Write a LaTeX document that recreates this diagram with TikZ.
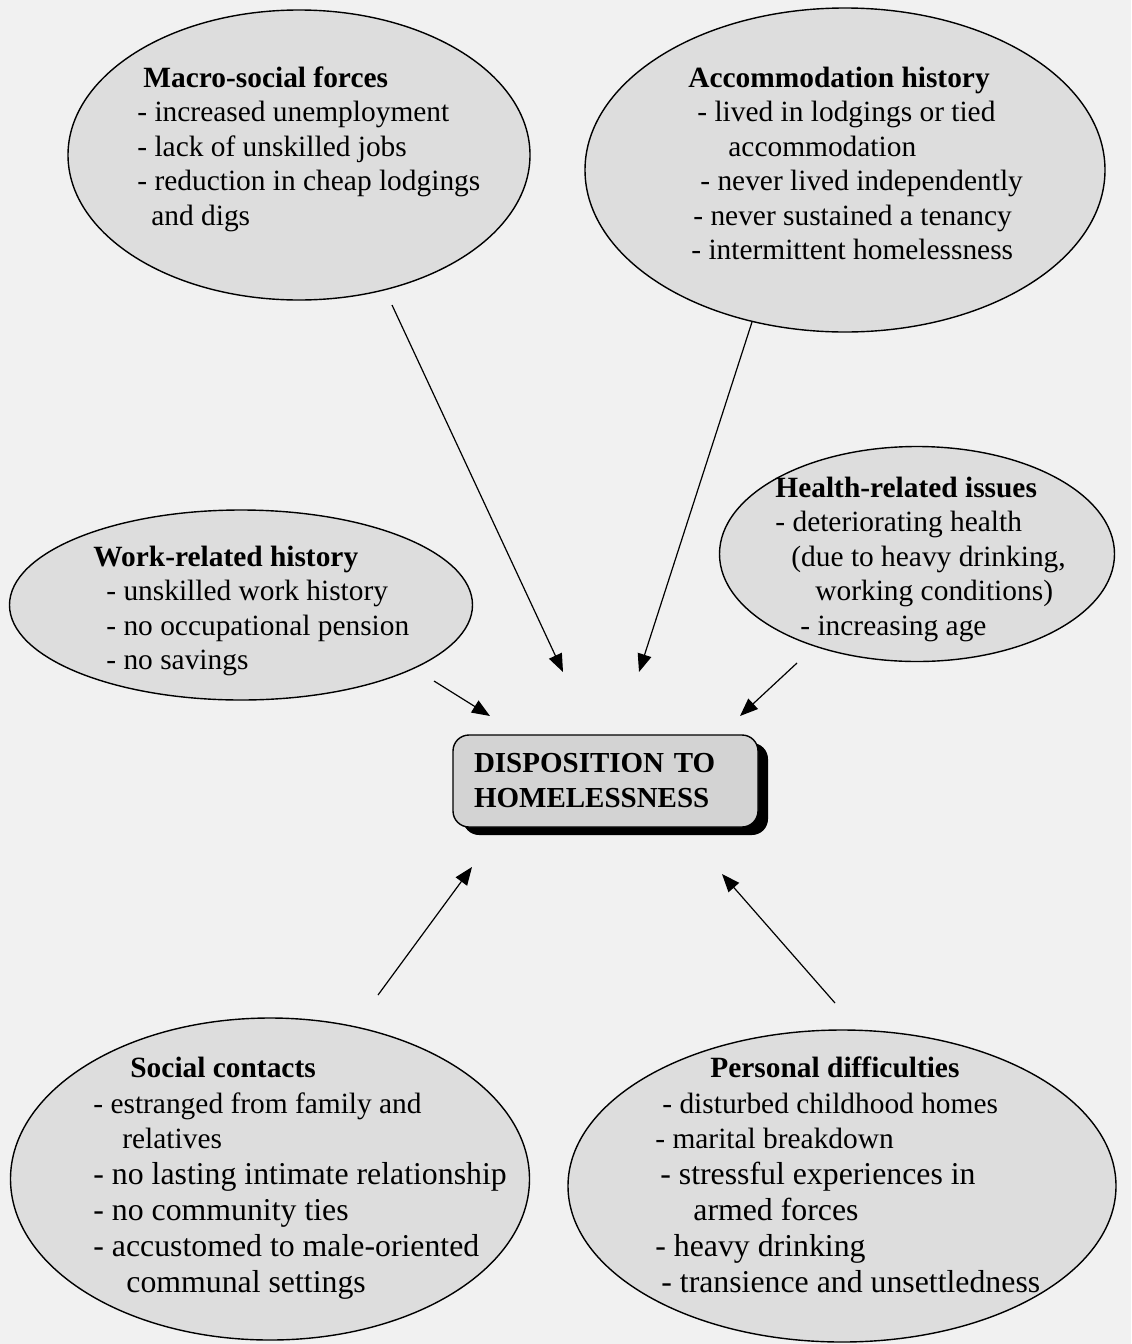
\documentclass[tikz,border=0pt]{standalone}
\usepackage{fontspec}
\setmainfont{Liberation Serif}
\usepackage{tikz}
\usetikzlibrary{shapes.geometric,arrows.meta,shadows}
\usepackage{xcolor}
\definecolor{paper}{HTML}{F1F1F1}
\definecolor{ovalgray}{HTML}{DDDDDD}
\definecolor{boxgray}{HTML}{D3D3D3}
\newcommand{\wideln}{\fontsize{15.9}{17.9}\selectfont}
\tikzset{
  factor/.style={ellipse, draw=black, line width=0.7pt, fill=ovalgray, inner sep=0pt},
  facttext/.style={anchor=base west, align=left, inner sep=0pt, font=\fontsize{14.7}{17.25}\selectfont},
  lowtext/.style={facttext, font=\fontsize{14.7}{17.9}\selectfont},
  core/.style={rectangle, rounded corners=8pt, draw=black, line width=0.7pt, fill=boxgray,
    text width=131.5pt, inner xsep=10.5pt, minimum height=46pt, align=left,
    font=\fontsize{14.5}{17.5}\selectfont\bfseries,
    drop shadow={shadow xshift=5pt, shadow yshift=-4pt, fill=black, opacity=1}},
  cause/.style={-{Triangle[length=9pt,width=7pt]}, line width=0.6pt, draw=black},
}

\begin{document}
\begin{tikzpicture}[x=0.5pt, y=-0.5pt]  % 1 unit = 1 px of the scan
  \fill[paper] (0,0) rectangle (1131,1344);
  \useasboundingbox (0,0) rectangle (1131,1344);
  % Ellipsen
  \node[factor, minimum width=231pt, minimum height=145pt] (macro) at (299,155) {};
  \node[factor, minimum width=260pt, minimum height=162pt] (accom) at (845,170) {};
  \node[factor, minimum width=231.5pt, minimum height=95pt] (work) at (241,605) {};
  \node[factor, minimum width=197.5pt, minimum height=107.5pt] (health) at (917,554) {};
  \node[factor, minimum width=259.5pt, minimum height=161pt] (social) at (270,1179) {};
  \node[factor, minimum width=274pt, minimum height=156pt] (personal) at (842,1186) {};
  % Texte (Anker = Grundlinie der letzten Zeile)
  \node[facttext] (macro-txt) at (137,225) {\hspace*{3pt}\textbf{Macro-social forces}\\
    - increased unemployment\\- lack of unskilled jobs\\- reduction in cheap lodgings\\
    \hspace*{7pt}and digs};
  \node[facttext] (accom-txt) at (688,259.5) {\textbf{Accommodation history}\\
    \hspace*{4.5pt}- lived in lodgings or tied\\\hspace*{20pt}accommodation\\
    \hspace*{6pt}- never lived independently\\\hspace*{2.5pt}- never sustained a tenancy\\
    \hspace*{1.5pt}- intermittent homelessness};
  \node[facttext] (work-txt) at (93,669.5) {\textbf{Work-related history}\\
    \hspace*{6.5pt}- unskilled work history\\\hspace*{6.5pt}- no occupational pension\\
    \hspace*{6.5pt}- no savings};
  \node[facttext] (health-txt) at (775,635) {\textbf{Health-related issues}\\
    - deteriorating health\\\hspace*{8pt}(due to heavy drinking,\\
    \hspace*{20pt}working conditions)\\\hspace*{12.5pt}- increasing age};
  \node[lowtext] (social-txt) at (93,1292) {\hspace*{18.5pt}\textbf{Social contacts}\\
    - estranged from family and\\\hspace*{14.5pt}relatives\\
    \wideln - no lasting intimate relationship\\\wideln - no community ties\\
    \wideln - accustomed to male-oriented\\\wideln\hspace*{16.5pt}communal settings};
  \node[lowtext] (personal-txt) at (655,1292) {\hspace*{27.5pt}\textbf{Personal difficulties}\\
    \hspace*{3.5pt}- disturbed childhood homes\\- marital breakdown\\
    \wideln\hspace*{2.5pt}- stressful experiences in\\\wideln\hspace*{19pt}armed forces\\
    \wideln - heavy drinking\\\wideln\hspace*{3pt}- transience and unsettledness};
  % Kern
  \node[core] (core) at (605.5,781) {DISPOSITION TO\\HOMELESSNESS};
  % Pfeile
  \coordinate (macro-out) at (392,305);   \coordinate (core-in1) at (563,672);
  \coordinate (accom-out) at (752,322);   \coordinate (core-in2) at (639,672);
  \coordinate (work-out) at (434,681);    \coordinate (core-in3) at (490,716);
  \coordinate (health-out) at (797,663);  \coordinate (core-in4) at (740,716);
  \coordinate (social-out) at (378,995);  \coordinate (core-in5) at (472,867);
  \coordinate (personal-out) at (835,1003); \coordinate (core-in6) at (722,874);
  \draw[cause] (macro-out) -- (core-in1);
  \draw[cause] (accom-out) -- (core-in2);
  \draw[cause] (work-out) -- (core-in3);
  \draw[cause] (health-out) -- (core-in4);
  \draw[cause] (social-out) -- (core-in5);
  \draw[cause] (personal-out) -- (core-in6);
\end{tikzpicture}
\end{document}
